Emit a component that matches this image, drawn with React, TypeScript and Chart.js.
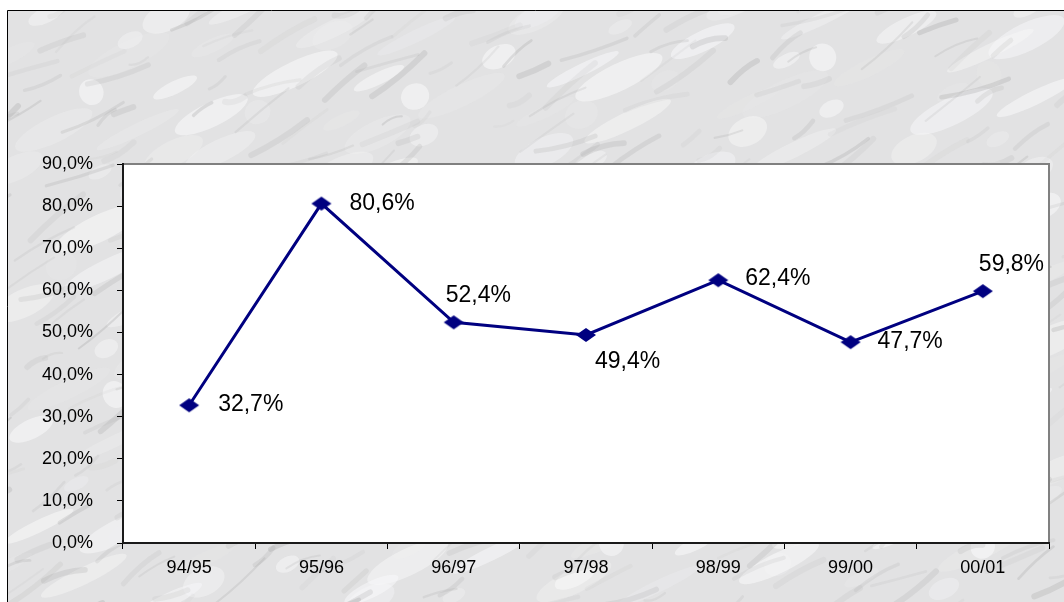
import React, { useEffect, useRef } from "react";
import { Chart, registerables } from "chart.js";

Chart.register(...registerables);

const categories = ["94/95", "95/96", "96/97", "97/98", "98/99", "99/00", "00/01"];
const seriesValues = [32.7, 80.6, 52.4, 49.4, 62.4, 47.7, 59.8];
const yTickValues = [0, 10, 20, 30, 40, 50, 60, 70, 80, 90];

// label placement (left edge offset, vertical centre offset) per point
const labelOffsets: [number, number][] = [
  [29, -1],
  [28, 0],
  [-8, -27],
  [9, 27],
  [27, -2],
  [27, 0],
  [-4, -27],
];

const FONT = '"Liberation Sans", Arial, sans-serif';
const NAVY = "#000080";

function fmt(v: number) {
  return v.toFixed(1).replace(".", ",") + "%";
}

function makeMarble(w: number, h: number) {
  const c = document.createElement("canvas");
  c.width = w;
  c.height = h;
  const ctx = c.getContext("2d")!;
  ctx.fillStyle = "#e2e2e3";
  ctx.fillRect(0, 0, w, h);
  // light patches
  for (let i = 0; i < 220; i++) {
    const x = (i * 211.3) % w;
    const y = (i * 97.91 + 20 * Math.sin(i)) % h;
    ctx.fillStyle = `rgba(248,248,249,${0.35 + 0.25 * Math.sin(i * 1.1)})`;
    ctx.beginPath();
    ctx.ellipse(x, y, 30 + 18 * Math.sin(i * 0.6), 10 + 4 * Math.cos(i), -0.45, 0, Math.PI * 2);
    ctx.fill();
  }
  // darker veins
  ctx.lineCap = "round";
  for (let i = 0; i < 420; i++) {
    const x = (i * 137.508) % (w + 100) - 50;
    const y = (i * 71.37 + 43 * Math.sin(i * 1.7)) % (h + 60) - 30;
    const len = 20 + 50 * (0.5 + 0.5 * Math.sin(i * 2.3));
    const ang = -0.5 + 0.25 * Math.sin(i * 0.9);
    const shade = 150 + Math.round(40 * (0.5 + 0.5 * Math.sin(i * 3.1)));
    const a = 0.1 + 0.15 * (0.5 + 0.5 * Math.cos(i * 1.3));
    ctx.strokeStyle = `rgba(${shade},${shade},${shade},${a})`;
    ctx.lineWidth = 2 + 4 * (0.5 + 0.5 * Math.sin(i * 0.7));
    ctx.beginPath();
    ctx.moveTo(x, y);
    ctx.quadraticCurveTo(
      x + (Math.cos(ang) * len) / 2,
      y + (Math.sin(ang) * len) / 2 + 5 * Math.sin(i),
      x + Math.cos(ang) * len,
      y + Math.sin(ang) * len
    );
    ctx.stroke();
  }
  return c;
}

function makeDiamond() {
  const c = document.createElement("canvas");
  c.width = 22;
  c.height = 16;
  const ctx = c.getContext("2d")!;
  ctx.fillStyle = NAVY;
  ctx.beginPath();
  ctx.moveTo(11, 1);
  ctx.lineTo(21, 8);
  ctx.lineTo(11, 15);
  ctx.lineTo(1, 8);
  ctx.closePath();
  ctx.fill();
  return c;
}

export default function App() {
  const ref = useRef<HTMLCanvasElement | null>(null);

  useEffect(() => {
    if (!ref.current) return;
    const marble = makeMarble(1064, 602);
    const diamond = makeDiamond();

    const backgroundPlugin = {
      id: "bgPlugin",
      beforeDraw(chart: any) {
        const ctx = chart.ctx;
        const { left, right, top, bottom } = chart.chartArea;
        ctx.save();
        ctx.fillStyle = "#ffffff";
        ctx.fillRect(0, 0, chart.width, chart.height);
        ctx.drawImage(marble, 7, 10, chart.width - 7, chart.height - 10, 7, 10, chart.width - 7, chart.height - 10);
        ctx.strokeStyle = "#000";
        ctx.lineWidth = 1;
        ctx.beginPath();
        ctx.moveTo(7.5, chart.height);
        ctx.lineTo(7.5, 10.5);
        ctx.lineTo(chart.width, 10.5);
        ctx.stroke();
        ctx.fillStyle = "#ffffff";
        ctx.fillRect(left, top, right - left, bottom - top);
        ctx.strokeStyle = "#808080";
        ctx.lineWidth = 2;
        ctx.beginPath();
        ctx.moveTo(left, top);
        ctx.lineTo(right, top);
        ctx.lineTo(right, bottom);
        ctx.stroke();
        ctx.restore();
      },
    };

    const labelPlugin = {
      id: "labelPlugin",
      afterDatasetsDraw(chart: any) {
        const ctx = chart.ctx;
        const meta = chart.getDatasetMeta(0);
        ctx.save();
        ctx.font = `23px ${FONT}`;
        ctx.fillStyle = "#000";
        ctx.textAlign = "left";
        ctx.textBaseline = "middle";
        meta.data.forEach((pt: any, i: number) => {
          const [dx, dy] = labelOffsets[i];
          ctx.fillText(fmt(seriesValues[i]), pt.x + dx, pt.y + dy);
        });
        ctx.restore();
      },
    };

    const chart = new Chart(ref.current, {
      type: "line",
      data: {
        labels: categories,
        datasets: [
          {
            data: seriesValues,
            borderColor: NAVY,
            backgroundColor: NAVY,
            borderWidth: 3,
            pointStyle: diamond as any,
            pointRadius: 10,
            tension: 0,
            fill: false,
          },
        ],
      },
      options: {
        responsive: false,
        animation: false,
        devicePixelRatio: 1,
        layout: { padding: { top: 164, right: 15, left: 0, bottom: 0 } },
        plugins: {
          legend: { display: false },
          tooltip: { enabled: false },
          title: { display: false },
        },
        scales: {
          x: {
            type: "category",
            offset: true,
            afterFit: (s: any) => {
              s.height = 59;
            },
            grid: {
              offset: true,
              drawOnChartArea: false,
              drawTicks: true,
              tickLength: 6,
              color: "#000",
              lineWidth: 1,
            },
            border: { display: true, color: "#1a1a1a", width: 2 },
            ticks: {
              color: "#000",
              font: { family: FONT, size: 18 },
              padding: 8,
              maxRotation: 0,
            },
          },
          y: {
            min: 0,
            max: 90,
            afterFit: (s: any) => {
              s.width = 123;
            },
            afterBuildTicks: (s: any) => {
              s.ticks = yTickValues.map((v) => ({ value: v }));
            },
            grid: {
              drawOnChartArea: false,
              drawTicks: true,
              tickLength: 6,
              color: "#000",
              lineWidth: 1,
            },
            border: { display: true, color: "#1a1a1a", width: 2 },
            ticks: {
              color: "#000",
              font: { family: FONT, size: 18 },
              padding: 24,
              callback: (v: any) => fmt(Number(v)),
            },
          },
        },
      },
      plugins: [backgroundPlugin, labelPlugin],
    });

    return () => chart.destroy();
  }, []);

  return (
    <div style={{ position: "fixed", left: 0, top: 0, width: 1064, height: 602 }}>
      <canvas ref={ref} width={1064} height={602} style={{ width: 1064, height: 602, display: "block" }} />
    </div>
  );
}
